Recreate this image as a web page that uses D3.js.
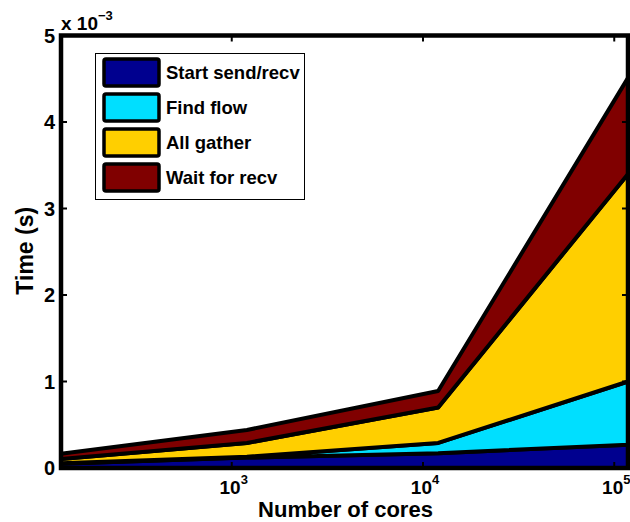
<!DOCTYPE html>
<html>
<head>
<meta charset="utf-8">
<script src="https://cdn.jsdelivr.net/npm/d3@7"></script>
<style>
  body { margin: 0; background: #fff; }
  text { font-family: "Liberation Sans", Arial, sans-serif; font-weight: bold; fill: #000; }
</style>
</head>
<body>
<div id="chart"></div>
<script>
// data (time in units of 1e-3 s)
const cores = [128, 1200, 12000, 118000];
const startSend = [0.05, 0.12, 0.17, 0.27];
const findFlow = [0.005, 0.01, 0.12, 0.73];
const allGather = [0.05, 0.16, 0.41, 2.40];
const waitRecv = [0.06, 0.15, 0.19, 1.11];
const seriesNames = ['Start send/recv', 'Find flow', 'All gather', 'Wait for recv'];
const yTicks = [0, 1, 2, 3, 4, 5];
const xTicks = [1e3, 1e4, 1e5];
const xTickExp = ['3', '4', '5'];

const colors = ['#00008f', '#00dfff', '#ffcf00', '#800000'];

const W = 630, H = 522;
const plot = { left: 61, right: 628, top: 35.5, bottom: 468 };

const svg = d3.select('#chart').append('svg')
  .attr('width', W)
  .attr('height', H);

const x = d3.scaleLog().domain(d3.extent(cores)).range([plot.left, plot.right]);
const y = d3.scaleLinear().domain([0, 5]).range([plot.bottom, plot.top]);

// build rows for the stack
const rows = cores.map((c, i) => ({
  cores: c,
  [seriesNames[0]]: startSend[i],
  [seriesNames[1]]: findFlow[i],
  [seriesNames[2]]: allGather[i],
  [seriesNames[3]]: waitRecv[i]
}));

const stacked = d3.stack().keys(seriesNames)(rows);

const area = d3.area()
  .x(d => x(d.data.cores))
  .y0(d => y(d[0]))
  .y1(d => y(d[1]));

svg.append('g')
  .selectAll('path')
  .data(stacked)
  .enter()
  .append('path')
  .attr('d', d => area(d) + 'Z')
  .attr('fill', (d, i) => colors[i])
  .attr('stroke', '#000')
  .attr('stroke-width', 4)
  .attr('stroke-linejoin', 'round');

// axes box
svg.append('rect')
  .attr('x', plot.left)
  .attr('y', plot.top)
  .attr('width', plot.right - plot.left)
  .attr('height', plot.bottom - plot.top)
  .attr('fill', 'none')
  .attr('stroke', '#000')
  .attr('stroke-width', 4.5);

// ticks (inward, on all sides)
const tickG = svg.append('g').attr('stroke', '#000').attr('stroke-width', 2);
yTicks.forEach(t => {
  tickG.append('line').attr('x1', plot.left).attr('x2', plot.left + 6).attr('y1', y(t)).attr('y2', y(t));
  tickG.append('line').attr('x1', plot.right).attr('x2', plot.right - 6).attr('y1', y(t)).attr('y2', y(t));
});
xTicks.forEach(t => {
  tickG.append('line').attr('x1', x(t)).attr('x2', x(t)).attr('y1', plot.top).attr('y2', plot.top + 6);
  tickG.append('line').attr('x1', x(t)).attr('x2', x(t)).attr('y1', plot.bottom).attr('y2', plot.bottom - 6);
});

// y tick labels
svg.append('g')
  .selectAll('text')
  .data(yTicks)
  .enter()
  .append('text')
  .attr('x', plot.left - 6)
  .attr('y', d => y(d) + 7)
  .attr('text-anchor', 'end')
  .style('font-size', '20px')
  .text(d => d);

// x tick labels 10^k
xTicks.forEach((t, i) => {
  const lbl = svg.append('text')
    .attr('x', x(t) + 2)
    .attr('y', 494)
    .attr('text-anchor', 'middle')
    .style('font-size', '19px');
  lbl.append('tspan').text('10');
  lbl.append('tspan').attr('dy', -10).style('font-size', '13px').text(xTickExp[i]);
});

// exponent note
const expo = svg.append('text')
  .attr('x', 61)
  .attr('y', 30)
  .style('font-size', '19px');
expo.append('tspan').text('x 10');
expo.append('tspan').attr('dy', -10).style('font-size', '13px').text('\u22123');

// axis labels
svg.append('text')
  .attr('x', (plot.left + plot.right) / 2 + 1)
  .attr('y', 517)
  .attr('text-anchor', 'middle')
  .style('font-size', '22px')
  .text('Number of cores');

svg.append('text')
  .attr('transform', 'translate(33,' + ((plot.top + plot.bottom) / 2 - 1) + ') rotate(-90)')
  .attr('text-anchor', 'middle')
  .style('font-size', '23px')
  .text('Time (s)');

// legend
const legend = svg.append('g');
legend.append('rect')
  .attr('x', 95.5)
  .attr('y', 53.5)
  .attr('width', 209)
  .attr('height', 146)
  .attr('fill', '#fff')
  .attr('stroke', '#000')
  .attr('stroke-width', 1);

const item = legend.selectAll('g.item')
  .data(seriesNames)
  .enter()
  .append('g')
  .attr('class', 'item')
  .attr('transform', (d, i) => 'translate(0,' + (58 + i * 35) + ')');

item.append('rect')
  .attr('x', 104)
  .attr('y', 1)
  .attr('width', 55)
  .attr('height', 27)
  .attr('rx', 2)
  .attr('fill', (d, i) => colors[i])
  .attr('stroke', '#000')
  .attr('stroke-width', 3.5);

item.append('text')
  .attr('x', 166)
  .attr('y', 21)
  .style('font-size', '18.5px')
  .text(d => d);
</script>
</body>
</html>
